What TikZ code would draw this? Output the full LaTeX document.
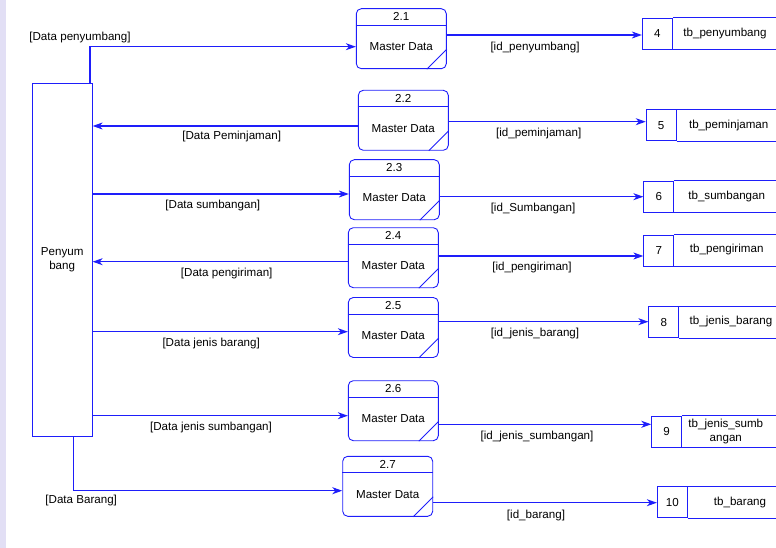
\documentclass[tikz,border=0pt]{standalone}
\usepackage{fontspec}
\setmainfont{Liberation Sans}
\usetikzlibrary{arrows.meta}

\definecolor{biru}{RGB}{30,30,250}
\definecolor{lila}{RGB}{226,223,245}

\tikzset{
  garis/.style={draw=biru, line width=0.9pt},
  proses/.style={garis, rounded corners=5pt, minimum width=90pt, minimum height=60pt, inner sep=0pt},
  entitas/.style={garis, minimum width=60pt, minimum height=352.7pt, align=center, font=\fontsize{11.6}{14.5}\selectfont},
  simpan/.style={garis, minimum width=30pt, minimum height=31pt, inner sep=0pt},
  alir/.style={draw=biru, line width=1.1pt, -{Stealth[length=10pt,width=7pt,inset=3pt]}},
}

\begin{document}
\begin{tikzpicture}[x=1pt, y=-1pt, font=\fontsize{11.6}{13.5}\selectfont]

    % ukuran gambar
    \useasboundingbox (0,0) rectangle (776,548);
    \fill[lila] (0,0) rectangle (6,548);
    \coordinate (tepi) at (776,0);

    % entitas luar
    \node[entitas] (ent) at (62.2,259.7) {Penyum\\bang};

    % proses 2.1 - 2.7
    \node[proses] (p21) at (401.3,38.7) {};
    \node[proses] (p22) at (403.3,120.3) {};
    \node[proses] (p23) at (394.3,189.7) {};
    \node[proses] (p24) at (393.3,257.7) {};
    \node[proses] (p25) at (393.3,327.5) {};
    \node[proses] (p26) at (393.3,410.7) {};
    \node[proses] (p27) at (387.7,486.3) {};
    \foreach \p/\no in {21/2.1, 22/2.2, 23/2.3, 24/2.4, 25/2.5, 26/2.6, 27/2.7} {
        \draw[garis] ([yshift=-17pt]p\p.north west) -- ([yshift=-17pt]p\p.north east);
        \draw[garis] ([xshift=-20pt]p\p.south east) -- ([yshift=20pt]p\p.south east);
        \node (n\p) at ([yshift=-8.5pt]p\p.north) {\no};
        \node (m\p) at ([yshift=-38.5pt]p\p.north) {Master Data};
    }

    % data store 4 - 10
    \node[simpan] (s4) at (657.3,33.7) {4};
    \node[simpan] (s5) at (661.2,125.3) {5};
    \node[simpan] (s6) at (658.8,196.7) {6};
    \node[simpan] (s7) at (658.8,250.7) {7};
    \node[simpan] (s8) at (663.8,322.3) {8};
    \node[simpan] (s9) at (666.7,431.5) {9};
    \node[simpan] (s10) at (672.3,502.3) {10};
    \foreach \s in {4,...,10} {
        \draw[garis] (s\s.north east) -- (s\s.north east -| tepi);
        \draw[garis] (s\s.south east) -- (s\s.south east -| tepi);
    }
    \node (t4) at (725,33.3) {tb\_penyumbang};
    \node (t5) at (728.7,126) {tb\_peminjaman};
    \node (t6) at (726.7,196.7) {tb\_sumbangan};
    \node (t7) at (726.7,250) {tb\_pengiriman};
    \node (t8) at (731,321.7) {tb\_jenis\_barang};
    \node[align=center] (t9) at (725.8,431.5) {tb\_jenis\_sumb\\angan};
    \node (t10) at (740,502.7) {tb\_barang};

    % alur entitas <-> proses
    \draw[alir] (90,0 |- ent.north) |- (p21.west |- 0,46.7);
    \draw[alir] (p22.west |- 0,126) -- (ent.east |- 0,126);
    \draw[alir] (ent.east |- 0,194) -- (p23.west |- 0,194);
    \draw[alir] (p24.west |- 0,261.7) -- (ent.east |- 0,261.7);
    \draw[alir] (ent.east |- 0,331.7) -- (p25.west |- 0,331.7);
    \draw[alir] (ent.east |- 0,415.7) -- (p26.west |- 0,415.7);
    \draw[alir] (73.3,0 |- ent.south) |- (p27.west |- 0,490.7);

    % alur proses -> data store
    \draw[alir] (p21.east |- 0,35) -- (s4.west |- 0,35);
    \draw[alir] (p22.east |- 0,121.7) -- (s5.west |- 0,121.7);
    \draw[alir] (p23.east |- 0,196.7) -- (s6.west |- 0,196.7);
    \draw[alir] (p24.east |- 0,256) -- (s7.west |- 0,256);
    \draw[alir] (p25.east |- 0,321.7) -- (s8.west |- 0,321.7);
    \draw[alir] (p26.east |- 0,424.3) -- (s9.west |- 0,424.3);
    \draw[alir] (p27.east |- 0,502.7) -- (s10.west |- 0,502.7);

    % label alur
    \node (l1) at (80,37.7) {[Data penyumbang]};
    \node (l2) at (231.7,136.7) {[Data Peminjaman]};
    \node (l3) at (212.8,205.7) {[Data sumbangan]};
    \node (l4) at (226.7,273.3) {[Data pengiriman]};
    \node (l5) at (211.2,343.3) {[Data jenis barang]};
    \node (l6) at (211,427.7) {[Data jenis sumbangan]};
    \node (l7) at (81.2,500) {[Data Barang]};
    \node (k1) at (535,47.3) {[id\_penyumbang]};
    \node (k2) at (538.7,133.3) {[id\_peminjaman]};
    \node (k3) at (533,208.3) {[id\_Sumbangan]};
    \node (k4) at (532,267.3) {[id\_pengiriman]};
    \node (k5) at (535,333.3) {[id\_jenis\_barang]};
    \node (k6) at (537,436.7) {[id\_jenis\_sumbangan]};
    \node (k7) at (536,515) {[id\_barang]};

\end{tikzpicture}
\end{document}
